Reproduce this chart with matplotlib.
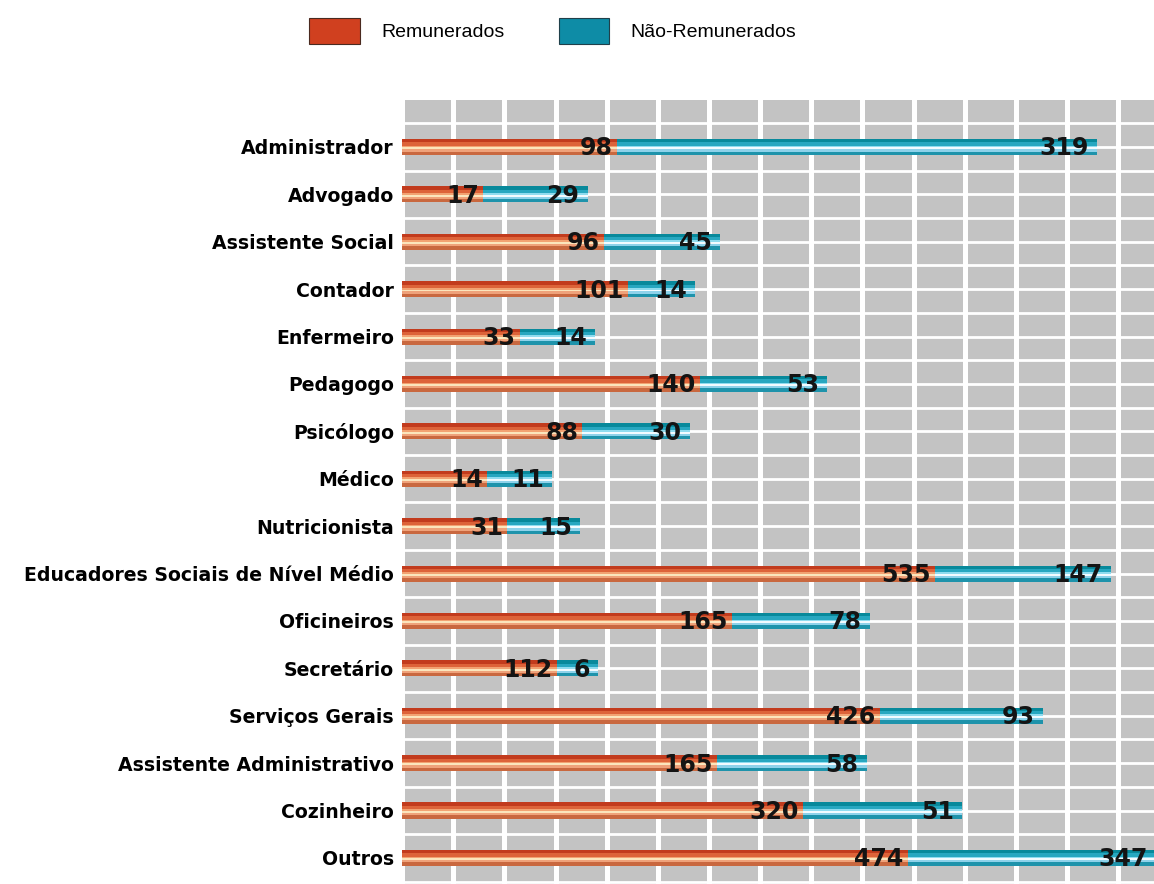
import numpy as np
import matplotlib
matplotlib.use('Agg')
import matplotlib.pyplot as plt
from matplotlib.patches import Patch

plt.rcParams['font.family'] = ['Liberation Sans', 'DejaVu Sans']

categorias = ['Administrador', 'Advogado', 'Assistente Social', 'Contador',
              'Enfermeiro', 'Pedagogo', 'Psicólogo', 'Médico', 'Nutricionista',
              'Educadores Sociais de Nível Médio', 'Oficineiros', 'Secretário',
              'Serviços Gerais', 'Assistente Administrativo', 'Cozinheiro', 'Outros']
remunerados = [98, 17, 96, 101, 33, 140, 88, 14, 31, 535, 165, 112, 426, 165, 320, 474]
nao_remunerados = [319, 29, 45, 14, 14, 53, 30, 11, 15, 147, 78, 6, 93, 58, 51, 347]

# the original drawing is not to scale, so bar lengths are read off the
# picture separately (in grid cells)
comp_rem = [4.20, 1.58, 3.95, 4.42, 2.30, 5.82, 3.52, 1.66, 2.05, 10.42,
            6.45, 3.03, 9.34, 6.16, 7.84, 9.89]
comp_nao = [9.39, 2.05, 2.27, 1.31, 1.47, 2.49, 2.11, 1.27, 1.43, 3.45,
            2.70, 0.80, 3.19, 2.93, 3.11, 4.86]

# stripes for the "tube" look: (top, bottom, colour) as fraction of bar height
faixas_rem = [(0.0, 1.0, '#C9683F'), (0.0, 0.22, '#C23B1D'), (0.22, 0.42, '#DD6339'),
              (0.42, 0.52, '#F2A272'), (0.52, 0.64, '#FBE5BC'), (0.64, 0.78, '#EFA27A')]
faixas_nao = [(0.0, 1.0, '#1E93AB'), (0.0, 0.22, '#08899B'), (0.22, 0.42, '#27A7C0'),
              (0.42, 0.52, '#90DCEF'), (0.52, 0.64, '#F2FBFF'), (0.64, 0.78, '#8ED2EA')]

W, H = 1154, 884
fig = plt.figure(figsize=(W / 100, H / 100), dpi=100)
x0 = 402.2 / W
ax = fig.add_axes([x0, 0, 1 - x0, 1 - 99.6 / H])
ax.set_facecolor('#C3C3C3')

y = np.arange(len(categorias))
alt = 0.34


def tubo(lens, lefts, faixas):
    for top, bot, cor in faixas:
        yc = y - alt / 2 + (top + bot) / 2 * alt
        ax.barh(yc, lens, left=lefts, height=(bot - top) * alt, color=cor,
                linewidth=0, zorder=3)


rem = np.array(comp_rem)
nao = np.array(comp_nao)
tubo(rem, 0, faixas_rem)
tubo(nao, rem, faixas_nao)

num_font = dict(family='DejaVu Sans', fontsize=17, fontweight='bold', color='#141414')
for i in range(len(categorias)):
    ax.annotate(str(remunerados[i]), xy=(rem[i], y[i]), xytext=(-3, -1),
                textcoords='offset points', ha='right', va='center',
                zorder=5, **num_font)
    ax.annotate(str(nao_remunerados[i]), xy=(rem[i] + nao[i], y[i]), xytext=(-6, -1),
                textcoords='offset points', ha='right', va='center',
                zorder=5, annotation_clip=False, **num_font)

ax.set_xlim(0, (W - 402.2) / 51.13)
ax.set_ylim(15.55, -1.0)
ax.set_xticks(np.arange(0, 15))
ax.set_yticks(y)
ax.set_yticks(np.arange(-0.5, 16, 1), minor=True)
ax.set_yticklabels(categorias, fontweight='bold', fontsize=13.6, family='DejaVu Sans')
ax.tick_params(axis='x', length=0, labelbottom=False)
ax.tick_params(axis='y', which='both', length=0, pad=6)
ax.xaxis.grid(True, color='white', lw=3.6)
ax.yaxis.grid(True, which='both', color='white', lw=2)
ax.set_axisbelow(True)
for s in ax.spines.values():
    s.set_visible(False)

handles = [Patch(facecolor='#D0401F', edgecolor='#4a2a20', lw=0.8, label='Remunerados'),
           Patch(facecolor='#0E8CA6', edgecolor='#20404a', lw=0.8, label='Não-Remunerados')]
fig.legend(handles=handles, loc='center', bbox_to_anchor=(0.479, 0.965), ncol=2,
           frameon=False, fontsize=14, handlelength=2.6, handleheight=1.7,
           handletextpad=1.1, columnspacing=2.8)

fig.savefig('out.png', dpi=100)
